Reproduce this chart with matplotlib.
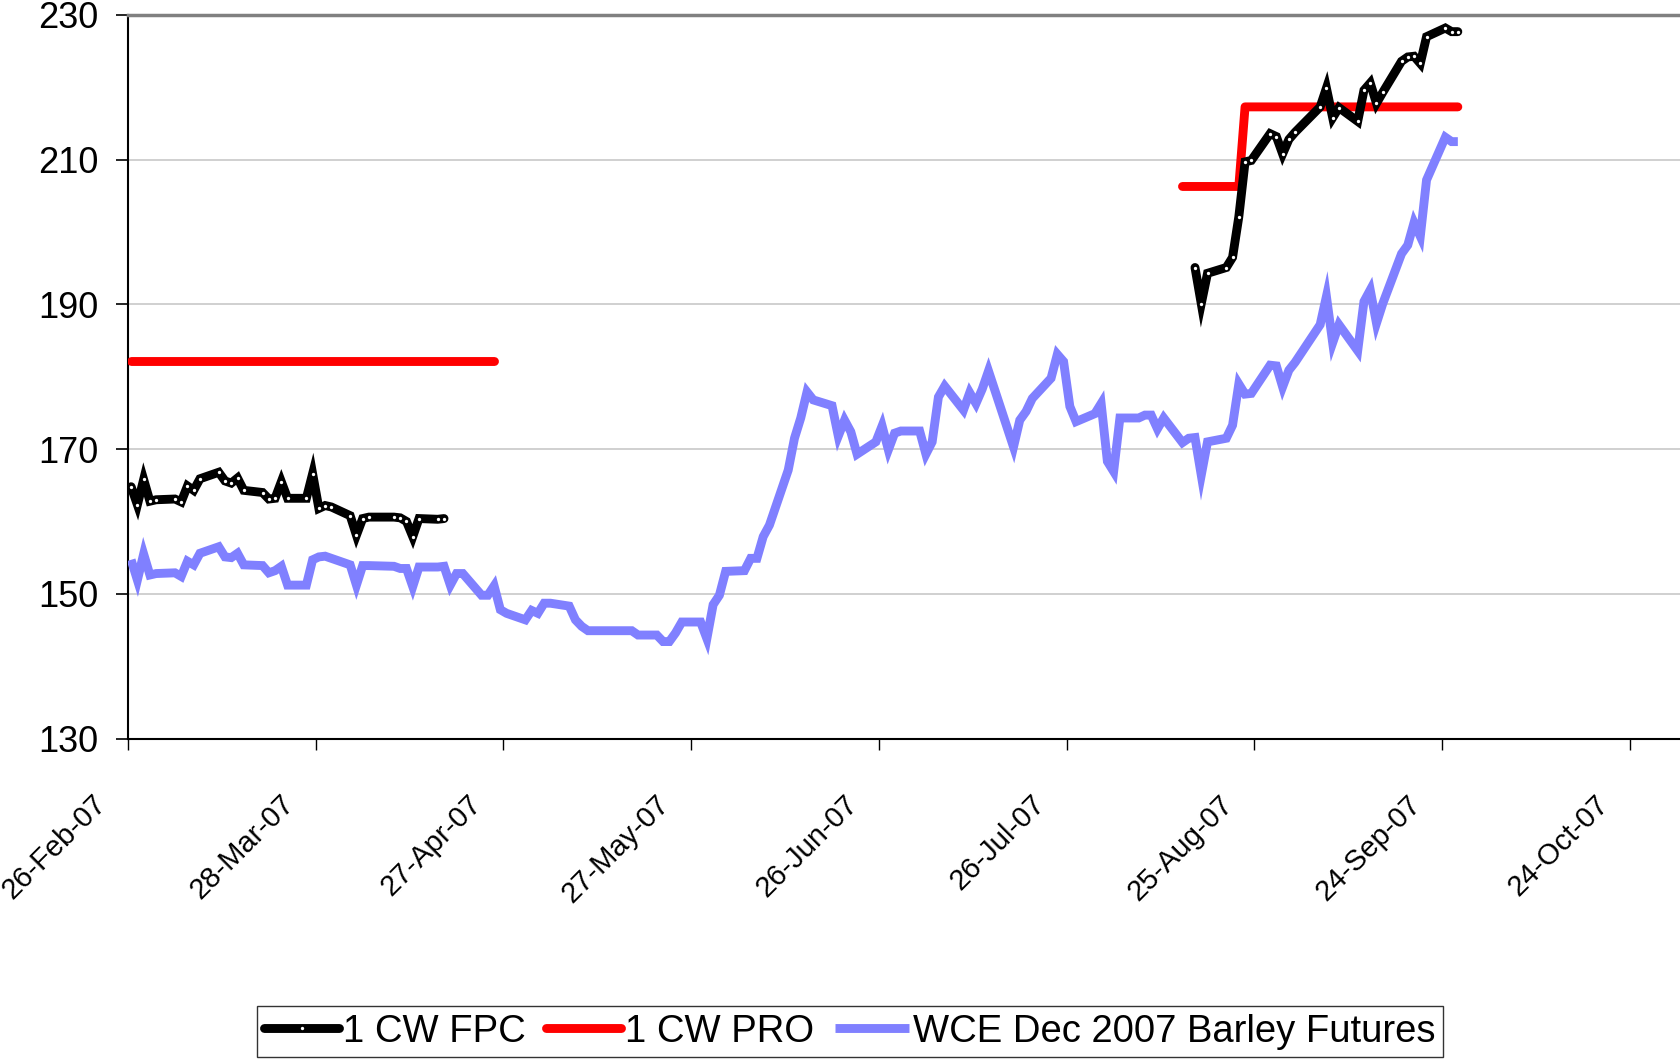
import matplotlib
matplotlib.use("Agg")
import matplotlib.pyplot as plt
import matplotlib.dates as mdates
from matplotlib.transforms import ScaledTranslation
import pandas as pd

plt.rcParams['font.family'] = ['Liberation Sans', 'DejaVu Sans']

# ---------------- data ----------------
fpc_spring_dates = ["2007-02-26", "2007-02-27", "2007-02-28", "2007-03-01", "2007-03-02",
                    "2007-03-05", "2007-03-06", "2007-03-07", "2007-03-08", "2007-03-09",
                    "2007-03-12", "2007-03-13", "2007-03-14", "2007-03-15", "2007-03-16",
                    "2007-03-19", "2007-03-20", "2007-03-21", "2007-03-22", "2007-03-23",
                    "2007-03-26", "2007-03-27", "2007-03-28", "2007-03-29", "2007-03-30",
                    "2007-04-02", "2007-04-03", "2007-04-04", "2007-04-05",
                    "2007-04-09", "2007-04-10", "2007-04-11", "2007-04-12", "2007-04-13",
                    "2007-04-16", "2007-04-17"]
fpc_spring_vals = [164.8, 162.3, 165.8, 162.8, 163.0,
                   163.1, 162.7, 164.9, 164.3, 165.9,
                   166.8, 165.6, 165.3, 166.0, 164.3,
                   164.0, 163.1, 163.2, 165.5, 163.2,
                   163.2, 166.6, 161.8, 162.2, 162.0,
                   160.8, 158.1, 160.4, 160.6,
                   160.6, 160.5, 160.0, 157.9, 160.4,
                   160.3, 160.4]

fpc_fall_dates = ["2007-08-15", "2007-08-16", "2007-08-17",
                  "2007-08-20", "2007-08-21", "2007-08-22", "2007-08-23", "2007-08-24",
                  "2007-08-27", "2007-08-28", "2007-08-29", "2007-08-30", "2007-08-31",
                  "2007-09-04", "2007-09-05", "2007-09-06", "2007-09-07",
                  "2007-09-10", "2007-09-11", "2007-09-12", "2007-09-13", "2007-09-14",
                  "2007-09-17", "2007-09-18", "2007-09-19", "2007-09-20", "2007-09-21",
                  "2007-09-24", "2007-09-25", "2007-09-26"]
fpc_fall_vals = [195.1, 190.1, 194.3,
                 195.1, 196.5, 202.1, 209.7, 209.9,
                 213.6, 213.2, 210.8, 212.8, 213.8,
                 217.3, 219.9, 215.8, 217.2,
                 215.3, 219.6, 220.6, 217.8, 219.3,
                 223.6, 224.2, 224.3, 223.3, 227.0,
                 228.2, 227.7, 227.7]

pro_spring_dates = ["2007-02-26", "2007-04-25"]
pro_spring_vals = [182.2, 182.2]
pro_fall_dates = ["2007-08-13", "2007-08-22", "2007-08-23", "2007-09-26"]
pro_fall_vals = [206.3, 206.3, 217.3, 217.3]

fut_dates = ["2007-02-26", "2007-02-27", "2007-02-28", "2007-03-01", "2007-03-02",
             "2007-03-05", "2007-03-06", "2007-03-07", "2007-03-08", "2007-03-09",
             "2007-03-12", "2007-03-13", "2007-03-14", "2007-03-15", "2007-03-16",
             "2007-03-19", "2007-03-20", "2007-03-21", "2007-03-22", "2007-03-23",
             "2007-03-26", "2007-03-27", "2007-03-28", "2007-03-29", "2007-03-30",
             "2007-04-02", "2007-04-03", "2007-04-04", "2007-04-05",
             "2007-04-09", "2007-04-10", "2007-04-11", "2007-04-12", "2007-04-13",
             "2007-04-16", "2007-04-17", "2007-04-18", "2007-04-19", "2007-04-20",
             "2007-04-23", "2007-04-24", "2007-04-25", "2007-04-26", "2007-04-27",
             "2007-04-30", "2007-05-01", "2007-05-02", "2007-05-03", "2007-05-04",
             "2007-05-07", "2007-05-08", "2007-05-09", "2007-05-10", "2007-05-11",
             "2007-05-14", "2007-05-15", "2007-05-16", "2007-05-17", "2007-05-18",
             "2007-05-21", "2007-05-22", "2007-05-23", "2007-05-24", "2007-05-25",
             "2007-05-28", "2007-05-29", "2007-05-30", "2007-05-31", "2007-06-01",
             "2007-06-04", "2007-06-05", "2007-06-06", "2007-06-07", "2007-06-08",
             "2007-06-11", "2007-06-12", "2007-06-13", "2007-06-14", "2007-06-15",
             "2007-06-18", "2007-06-19", "2007-06-20", "2007-06-21", "2007-06-22",
             "2007-06-25", "2007-06-26", "2007-06-27", "2007-06-28", "2007-06-29",
             "2007-07-02", "2007-07-03", "2007-07-04", "2007-07-05", "2007-07-06",
             "2007-07-09", "2007-07-10", "2007-07-11", "2007-07-12", "2007-07-13",
             "2007-07-16", "2007-07-17", "2007-07-18", "2007-07-19", "2007-07-20",
             "2007-07-23", "2007-07-24", "2007-07-25", "2007-07-26", "2007-07-27",
             "2007-07-30", "2007-07-31", "2007-08-01", "2007-08-02", "2007-08-03",
             "2007-08-06", "2007-08-07", "2007-08-08", "2007-08-09", "2007-08-10",
             "2007-08-13", "2007-08-14", "2007-08-15", "2007-08-16", "2007-08-17",
             "2007-08-20", "2007-08-21", "2007-08-22", "2007-08-23", "2007-08-24",
             "2007-08-27", "2007-08-28", "2007-08-29", "2007-08-30", "2007-08-31",
             "2007-09-04", "2007-09-05", "2007-09-06", "2007-09-07",
             "2007-09-10", "2007-09-11", "2007-09-12", "2007-09-13", "2007-09-14",
             "2007-09-17", "2007-09-18", "2007-09-19", "2007-09-20", "2007-09-21",
             "2007-09-24", "2007-09-25", "2007-09-26"]
fut_vals = [154.7, 151.9, 155.5, 152.6, 152.8,
            152.9, 152.4, 154.5, 154.0, 155.6,
            156.5, 155.1, 155.0, 155.6, 154.0,
            153.9, 152.9, 153.2, 153.8, 151.2,
            151.2, 154.7, 155.1, 155.2, 154.9,
            154.0, 151.2, 153.9, 153.9,
            153.8, 153.5, 153.5, 151.0, 153.7,
            153.7, 153.8, 151.2, 152.8, 152.8,
            149.8, 149.8, 151.1, 147.8, 147.3,
            146.4, 147.7, 147.3, 148.7, 148.7,
            148.3, 146.4, 145.5, 144.9, 144.9,
            144.9, 144.9, 144.9, 144.9, 144.3,
            144.3, 143.4, 143.4, 144.6, 146.1,
            146.1, 143.8, 148.5, 149.8, 153.1,
            153.2, 154.9, 154.9, 157.9, 159.5,
            167.1, 171.5, 174.3, 177.9, 176.8,
            176.0, 171.8, 174.0, 172.4, 169.3,
            171.0, 173.2, 169.9, 172.2, 172.5,
            172.5, 169.3, 171.0, 177.2, 178.7,
            175.4, 177.8, 176.3, 178.3, 180.8,
            172.9, 170.3, 174.0, 175.2, 177.0,
            179.8, 183.1, 182.1, 175.9, 173.8,
            174.9, 176.3, 168.3, 166.9, 174.3,
            174.3, 174.7, 174.7, 172.8, 174.3,
            170.9, 171.5, 171.6, 166.4, 171.0,
            171.5, 173.3, 179.0, 177.6, 177.7,
            181.6, 181.5, 178.6, 180.9, 182.0,
            187.2, 191.1, 184.7, 187.2,
            183.6, 190.4, 192.0, 187.4, 190.1,
            197.0, 198.2, 201.3, 199.4, 207.2,
            213.1, 212.5, 212.5]

series_labels = ["1 CW FPC", "1 CW PRO", "WCE Dec 2007 Barley Futures"]
y_ticks = [130, 150, 170, 190, 210, 230]
x_start = "2007-02-26"
x_end = "2007-11-01"
tick_step_days = 30

# ---------------- drawing ----------------
half_day = pd.Timedelta(hours=12)

def to_x(d):
    return pd.to_datetime(d) + half_day

fig = plt.figure(figsize=(16.8, 10.61), dpi=100)
ax = fig.add_axes([128 / 1680, 1 - 738.5 / 1061, (1680 - 128) / 1680, (738.5 - 15) / 1061])

blue = "#8080FF"
lw = 6.4
ax.plot(to_x(fut_dates), fut_vals, color=blue, lw=lw, solid_joinstyle='miter',
        solid_capstyle='butt', label=series_labels[2], zorder=3)
ax.plot(to_x(pro_spring_dates), pro_spring_vals, color="#FF0000", lw=lw,
        solid_capstyle='round', label=series_labels[1], zorder=4)
ax.plot(to_x(pro_fall_dates), pro_fall_vals, color="#FF0000", lw=lw,
        solid_capstyle='round', zorder=4)
mk = dict(color="black", lw=lw, marker='o', markersize=2.4, markerfacecolor='white',
          markeredgewidth=0, solid_capstyle='round', solid_joinstyle='miter')
ax.plot(to_x(fpc_spring_dates), fpc_spring_vals, label=series_labels[0], zorder=5, **mk)
ax.plot(to_x(fpc_fall_dates), fpc_fall_vals, zorder=5, **mk)

ax.set_ylim(130, 230)
ax.set_yticks(y_ticks)
ax.set_xlim(pd.to_datetime(x_start), pd.to_datetime(x_end))
xt = pd.date_range(x_start, x_end, freq=f"{tick_step_days}D")
ax.set_xticks(xt)
ax.xaxis.set_major_formatter(mdates.DateFormatter('%d-%b-%y'))

ax.grid(axis='y', color='#C8C8C8', lw=1.2)
ax.set_axisbelow(True)

ax.spines['right'].set_visible(False)
ax.spines['top'].set_color('#808080')
ax.spines['top'].set_linewidth(2.5)
ax.spines['left'].set_color('black')
ax.spines['left'].set_linewidth(1.5)
ax.spines['bottom'].set_color('black')
ax.spines['bottom'].set_linewidth(1.5)

ax.tick_params(axis='y', direction='out', length=9, width=1.2, labelsize=26, pad=12)
ax.tick_params(axis='x', direction='out', length=8, width=1.0, labelsize=21, pad=29)
shift = ScaledTranslation(-0.16, 0, fig.dpi_scale_trans)
for lab in ax.get_xticklabels():
    lab.set_rotation(45)
    lab.set_ha('right')
    lab.set_va('top')
    lab.set_transform(lab.get_transform() + shift)

h, l = ax.get_legend_handles_labels()
order = [l.index(s) for s in series_labels]
leg = fig.legend([h[i] for i in order], [l[i] for i in order], loc='center',
                 bbox_to_anchor=(0.506, 0.0275), ncol=3, fontsize=27.5, frameon=True,
                 fancybox=False, edgecolor='black', handlelength=1.95, handletextpad=0.1,
                 columnspacing=0.55, borderpad=0.2, borderaxespad=0)
leg.get_frame().set_linewidth(1.0)

fig.savefig("out.png", dpi=100)
